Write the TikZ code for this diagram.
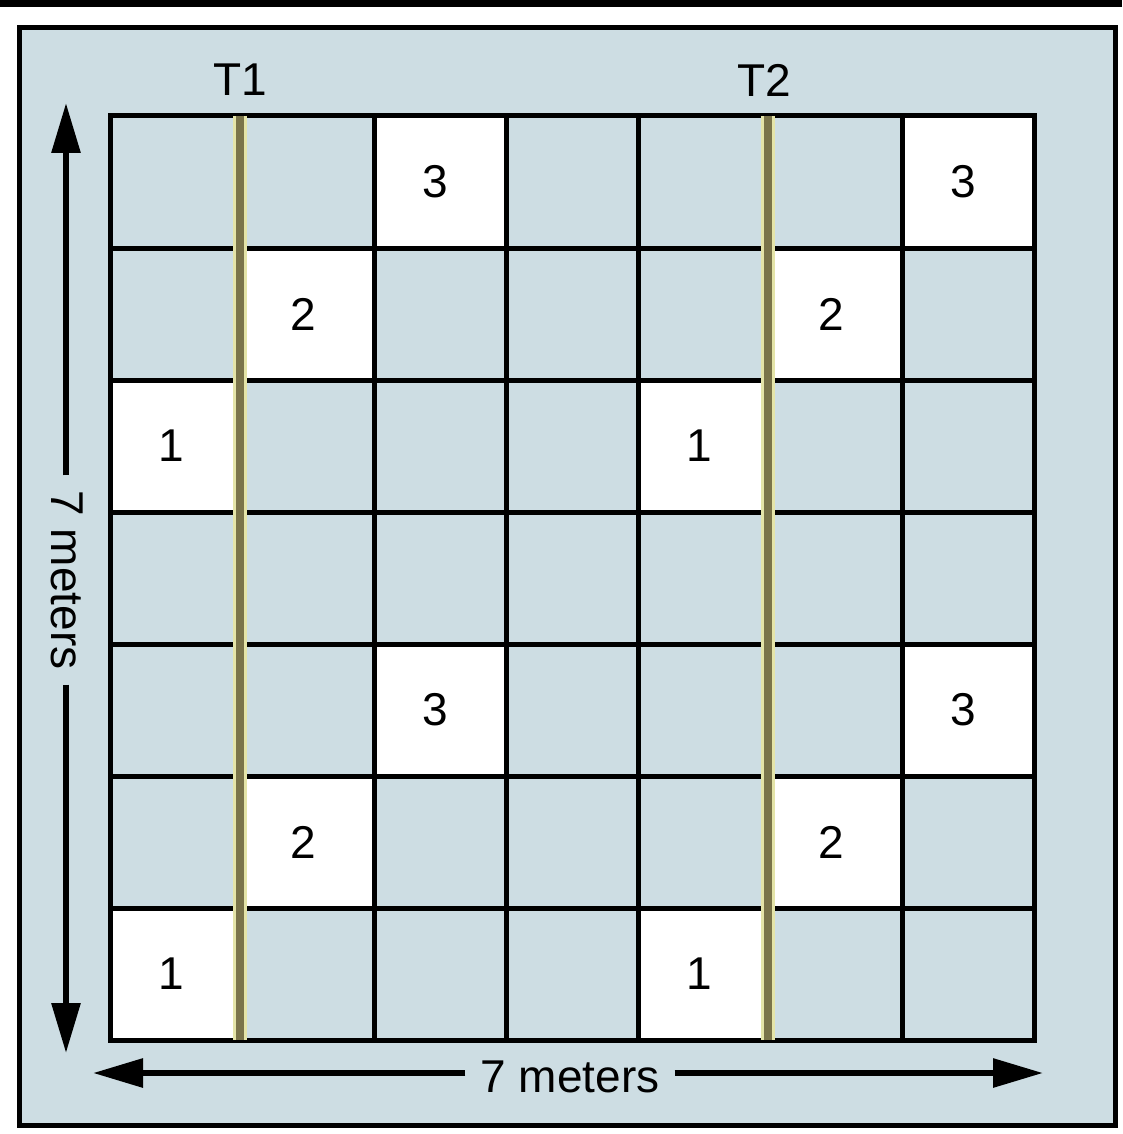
\documentclass[tikz,border=0pt]{standalone}
\usepackage{fontspec}
\setmainfont{Liberation Sans}
\usetikzlibrary{arrows.meta}
\definecolor{panel}{RGB}{205,221,227}
\definecolor{trackdark}{RGB}{122,116,74}
\definecolor{tracklight}{RGB}{228,228,168}
\begin{document}
\begin{tikzpicture}[x=1pt,y=-1pt,
  bigfont/.style={font=\fontsize{46}{55}\selectfont},
  cell/.style={draw=black,line width=5pt,minimum size=132pt,inner sep=0pt,fill=panel,bigfont},
  whitecell/.style={cell,fill=white},
  track/.style={draw=tracklight,line width=14pt,shorten <=2.5pt,shorten >=2.5pt,
     postaction={draw=trackdark,line width=8pt,shorten <=2.5pt,shorten >=2.5pt}},
  lab/.style={bigfont,inner sep=0pt},
  dimlab/.style={bigfont,inner sep=15pt},
  dim/.style={line width=6pt,-{Triangle[length=50pt,width=28pt]}}]
\useasboundingbox (0,0) rectangle (1122,1134);
\fill[white] (0,0) rectangle (1122,1134);
\fill[black] (0,0) rectangle (1122,7);
\draw[line width=5pt,fill=panel] (19,27.5) rectangle (1115.5,1125.5);
% grid cells
\foreach \r in {1,...,7}{
  \foreach \c in {1,...,7}{
    \pgfmathtruncatemacro\rr{mod(\r,4)}
    \pgfmathtruncatemacro\cc{mod(\c,4)}
    \pgfmathtruncatemacro\w{and(\rr>0,\cc==4-\rr)}
    \ifnum\w=1
      \node[whitecell] (c-\r-\c) at ({44+132*\c},{50+132*\r}) {\hspace*{-10pt}\the\numexpr4-\rr\relax};
    \else
      \node[cell] (c-\r-\c) at ({44+132*\c},{50+132*\r}) {};
    \fi
  }
}
% tracks
\draw[track] (c-1-2.north west) -- (c-7-2.south west);
\draw[track] (c-1-6.north west) -- (c-7-6.south west);
\node[lab] (T1) at (240,80) {T1};
\node[lab] (T2) at (764,80) {T2};
% dimensions
\coordinate (vt) at (66,103);
\coordinate (vb) at (66,1053);
\node[dimlab,rotate=-90] (vlab) at (67,580) {7 meters};
\draw[dim] (vt |- vlab.west) -- (vt);
\draw[dim] (vt |- vlab.east) -- (vb);
\coordinate (hl) at (93,1073);
\coordinate (hr) at (1043,1073);
\node[dimlab] (hlab) at (570,1077) {7 meters};
\draw[dim] (hlab.west |- hl) -- (hl);
\draw[dim] (hlab.east |- hl) -- (hr);
\end{tikzpicture}
\end{document}
